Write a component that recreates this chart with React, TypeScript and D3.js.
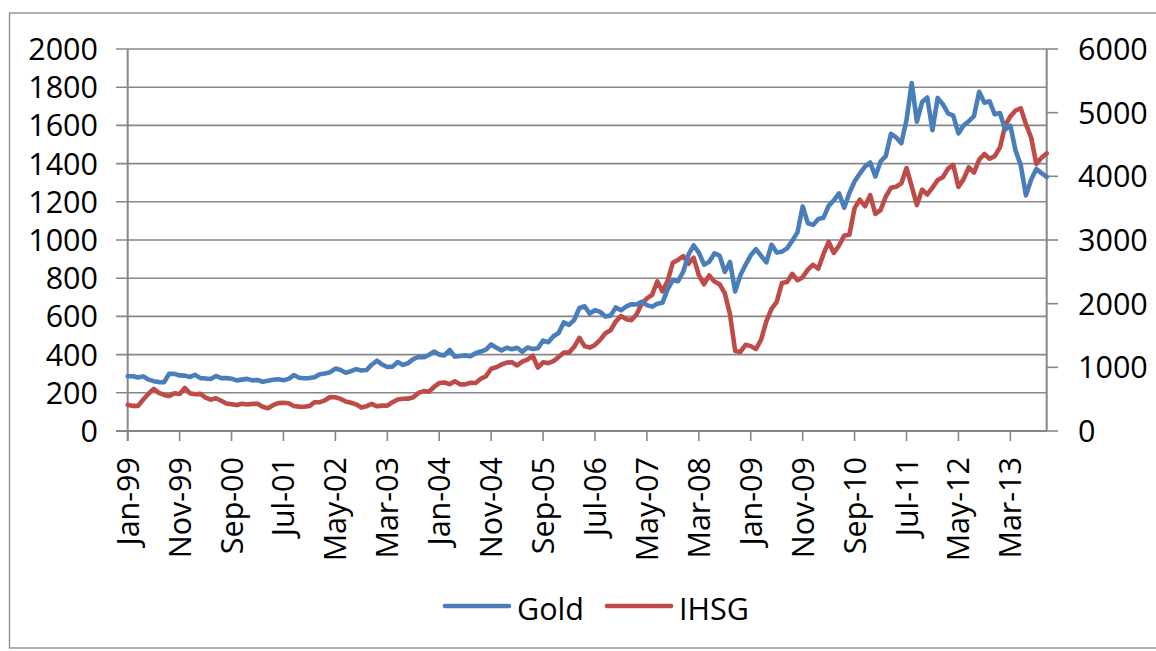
import * as d3 from "d3";
import { ReactElement } from "react";

// monthly closes, Jan-99 .. Oct-13
const months: Date[] = d3.timeMonth.range(new Date(1999, 0, 1), new Date(2013, 10, 1));

const gold: number[] = [
  // 1999
  287, 287, 280, 286, 269, 261, 256, 255, 300, 299, 291, 290,
  // 2000
  283, 294, 277, 275, 272, 288, 277, 277, 274, 265, 269, 273,
  // 2001
  265, 267, 258, 263, 268, 271, 266, 273, 293, 279, 276, 277,
  // 2002
  282, 297, 301, 308, 327, 319, 305, 313, 324, 317, 319, 347,
  // 2003
  368, 348, 335, 337, 361, 346, 355, 376, 388, 386, 398, 416,
  // 2004
  400, 396, 424, 389, 393, 396, 391, 407, 416, 426, 453, 436,
  // 2005
  422, 436, 428, 436, 415, 437, 429, 433, 473, 465, 496, 513,
  // 2006
  569, 556, 582, 644, 653, 614, 633, 624, 599, 604, 647, 632,
  // 2007
  651, 664, 662, 677, 659, 651, 666, 672, 743, 790, 784, 834,
  // 2008
  923, 972, 934, 871, 886, 930, 918, 833, 885, 731, 815, 870,
  // 2009
  920, 952, 917, 883, 976, 935, 939, 956, 996, 1040, 1176, 1088,
  // 2010
  1079, 1110, 1116, 1179, 1208, 1244, 1169, 1246, 1307, 1347, 1384, 1406,
  // 2011
  1333, 1411, 1439, 1556, 1537, 1506, 1628, 1822, 1620, 1722, 1746, 1575,
  // 2012
  1744, 1711, 1663, 1651, 1558, 1599, 1622, 1649, 1776, 1719, 1726, 1658,
  // 2013
  1665, 1578, 1598, 1469, 1392, 1234, 1315, 1372, 1350, 1330,
];

const ihsg: number[] = [
  // 1999
  412, 394, 394, 495, 585, 662, 598, 567, 548, 594, 582, 677,
  // 2000
  592, 577, 583, 526, 493, 515, 475, 431, 421, 407, 429, 416,
  // 2001
  426, 428, 381, 358, 406, 438, 444, 436, 393, 383, 380, 392,
  // 2002
  452, 453, 482, 534, 531, 505, 464, 444, 419, 369, 390, 425,
  // 2003
  388, 399, 398, 451, 495, 506, 508, 530, 598, 626, 617, 692,
  // 2004
  753, 761, 736, 783, 733, 732, 757, 755, 820, 861, 978, 1000,
  // 2005
  1045, 1074, 1080, 1030, 1088, 1122, 1182, 995, 1079, 1066, 1097, 1163,
  // 2006
  1232, 1231, 1323, 1464, 1330, 1310, 1352, 1431, 1535, 1583, 1719, 1806,
  // 2007
  1757, 1741, 1831, 1999, 2084, 2139, 2349, 2194, 2359, 2644, 2688, 2746,
  // 2008
  2627, 2722, 2447, 2305, 2444, 2349, 2305, 2166, 1833, 1257, 1242, 1355,
  // 2009
  1333, 1286, 1434, 1723, 1917, 2027, 2323, 2342, 2468, 2368, 2416, 2534,
  // 2010
  2611, 2549, 2777, 2971, 2797, 2914, 3069, 3082, 3501, 3635, 3531, 3704,
  // 2011
  3409, 3470, 3679, 3820, 3836, 3889, 4131, 3842, 3549, 3791, 3715, 3822,
  // 2012
  3942, 3985, 4122, 4181, 3833, 3956, 4142, 4060, 4263, 4350, 4276, 4317,
  // 2013
  4454, 4796, 4941, 5034, 5069, 4819, 4610, 4195, 4290, 4360,
];

const leftTicks: number[] = [0, 200, 400, 600, 800, 1000, 1200, 1400, 1600, 1800, 2000];
const rightTicks: number[] = [0, 1000, 2000, 3000, 4000, 5000, 6000];
const xTickLabels: string[] = [
  "Jan-99", "Nov-99", "Sep-00", "Jul-01", "May-02", "Mar-03", "Jan-04", "Nov-04", "Sep-05",
  "Jul-06", "May-07", "Mar-08", "Jan-09", "Nov-09", "Sep-10", "Jul-11", "May-12", "Mar-13",
];

const W = 1156;
const H = 651;
const left = 127.7;
const right = 1046.7;
const top = 49;
const bottom = 431;
const font = "'Open Sans', 'Noto Sans', sans-serif";
const gray = "#878787";
const blue = "#4A7EBB";
const red = "#BE4B48";

const App = (): ReactElement => {
  const x = d3.scaleLinear().domain([0, months.length - 1]).range([left, right]);
  const yL = d3.scaleLinear().domain([0, 2000]).range([bottom, top]);
  const yR = d3.scaleLinear().domain([0, 6000]).range([bottom, top]);

  const goldLine = d3.line<number>().x((_, i) => x(i)).y((d) => yL(d));
  const ihsgLine = d3.line<number>().x((_, i) => x(i)).y((d) => yR(d));

  return (
    <svg width={W} height={H} style={{ position: "absolute", left: 0, top: 0, background: "#fff" }}
      fontFamily={font}>
      {/* chart frame */}
      <rect x={9.5} y={13} width={1160} height={635} fill="none" stroke={gray} strokeWidth={1.3} />

      {/* gridlines + left ticks */}
      {leftTicks.map((t) => (
        <g key={"l" + t}>
          <line x1={116} x2={right} y1={yL(t)} y2={yL(t)} stroke={gray} strokeWidth={1.6} />
          <text x={98} y={yL(t) + 11} fontSize={30.5} textAnchor="end" fill="#000">{t}</text>
        </g>
      ))}

      {/* right axis */}
      <line x1={right} x2={right} y1={top} y2={bottom} stroke={gray} strokeWidth={2} />
      {rightTicks.map((t) => (
        <g key={"r" + t}>
          <line x1={right} x2={1058} y1={yR(t)} y2={yR(t)} stroke={gray} strokeWidth={1.6} />
          <text x={1078} y={yR(t) + 11} fontSize={30.5} fill="#000">{t}</text>
        </g>
      ))}

      {/* left axis */}
      <line x1={left} x2={left} y1={top} y2={bottom + 10} stroke={gray} strokeWidth={2} />
      {/* bottom axis */}
      <line x1={116} x2={right} y1={bottom} y2={bottom} stroke={gray} strokeWidth={2} />
      {xTickLabels.map((lab, k) => {
        const xi = x(k * 10);
        return (
          <g key={lab}>
            <line x1={xi} x2={xi} y1={bottom} y2={bottom + 10} stroke={gray} strokeWidth={1.6} />
            <text transform={`translate(${xi + 11},457) rotate(-90)`} fontSize={30.5}
              textAnchor="end" fill="#000">{lab}</text>
          </g>
        );
      })}

      {/* series */}
      <path d={ihsgLine(ihsg) ?? ""} fill="none" stroke={red} strokeWidth={4.6}
        strokeLinejoin="round" strokeLinecap="round" />
      <path d={goldLine(gold) ?? ""} fill="none" stroke={blue} strokeWidth={4.6}
        strokeLinejoin="round" strokeLinecap="round" />

      {/* legend */}
      <line x1={445} x2={509} y1={606} y2={606} stroke={blue} strokeWidth={4.6} strokeLinecap="round" />
      <text x={517} y={620} fontSize={30.5} fill="#000">Gold</text>
      <line x1={607} x2={671} y1={606} y2={606} stroke={red} strokeWidth={4.6} strokeLinecap="round" />
      <text x={679} y={620} fontSize={30.5} fill="#000">IHSG</text>
    </svg>
  );
};

export default App;
